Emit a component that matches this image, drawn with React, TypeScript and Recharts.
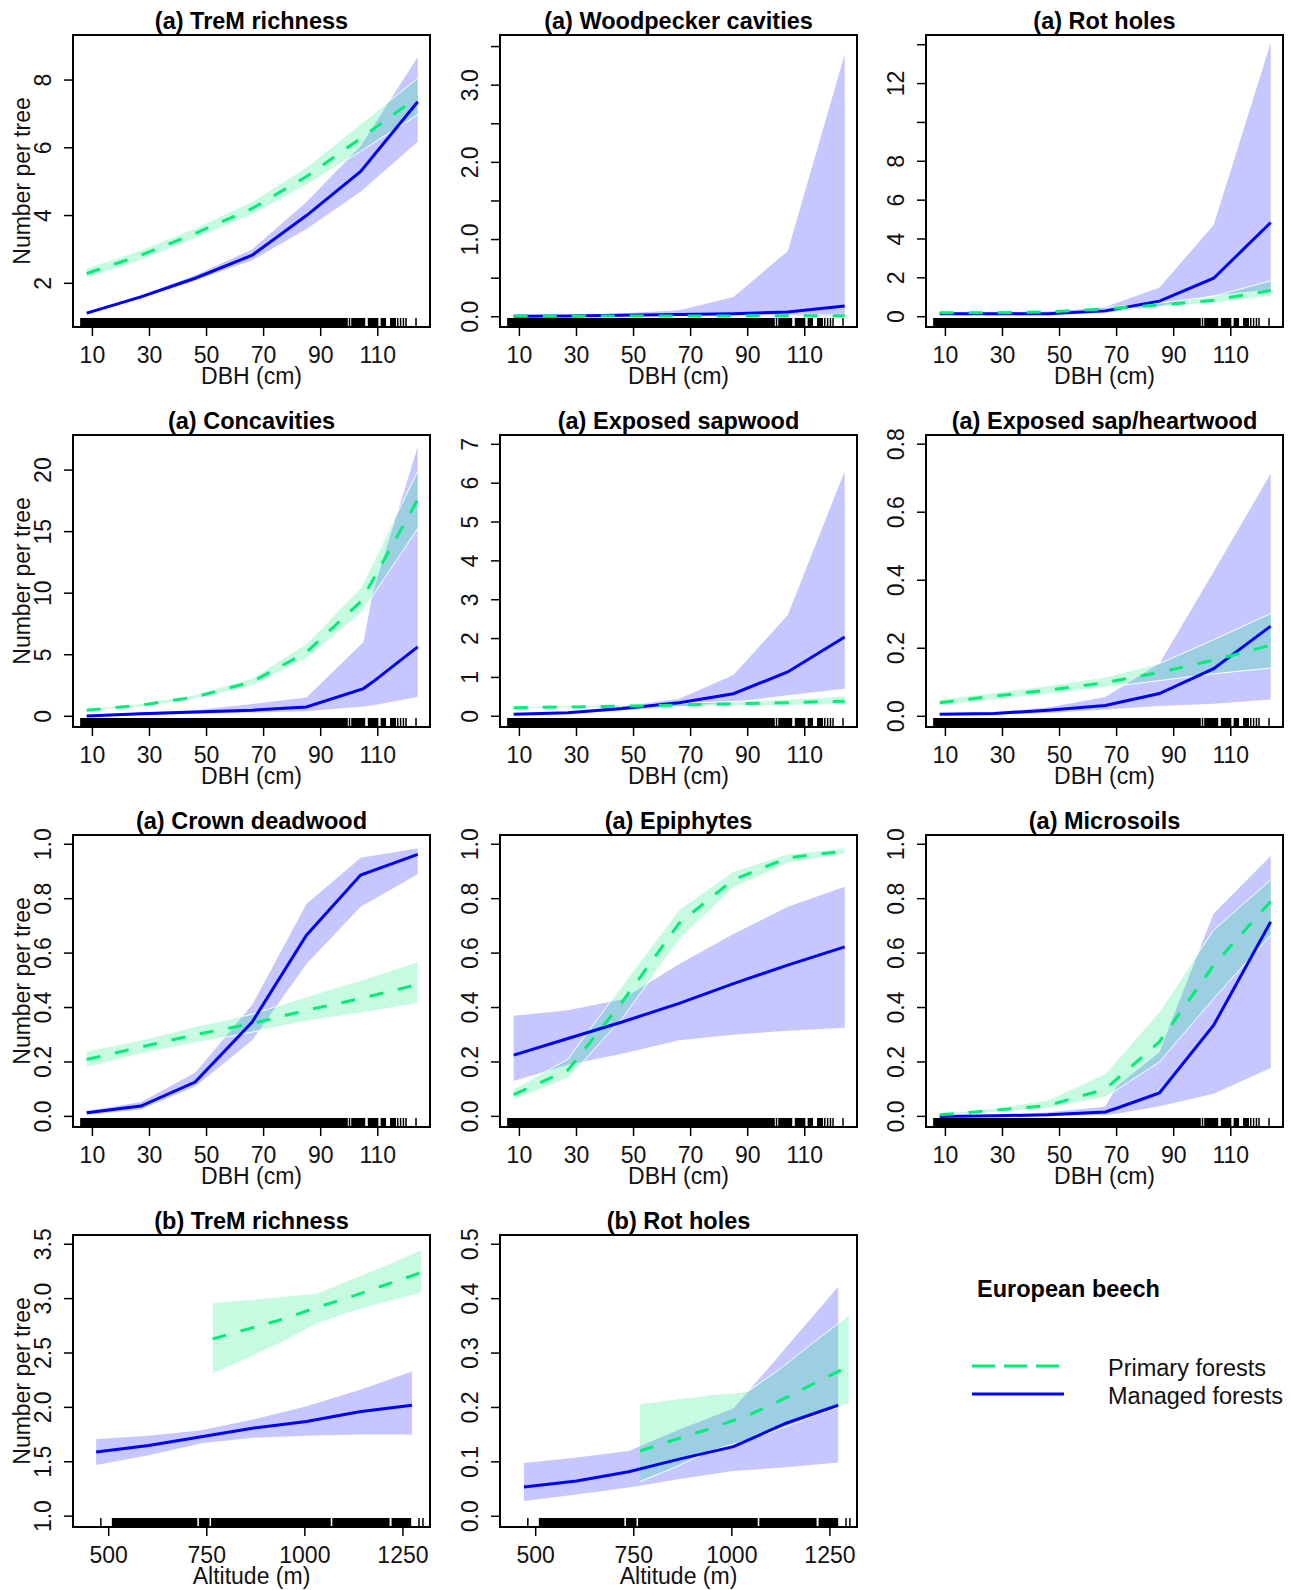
import React from "react";
import { ComposedChart, Area, Line, XAxis, YAxis, ReferenceArea, ReferenceLine } from "recharts";

const FONT = '"Liberation Sans", Arial, Helvetica, sans-serif';
const GREEN = "#00ee76";
const BLUE = "#0000ff";
const GREEN_BAND = "rgba(0,238,118,0.22)";
const BLUE_BAND = "rgba(0,0,255,0.22)";
const FS = 23;

// each row: [x, fitted, lower, upper]
type Row = [number, number, number, number];

// (a) panels, x = DBH (cm)
const tremPrimary: Row[] = [[8, 2.29, 2.15, 2.45], [27, 2.83, 2.68, 2.98], [46, 3.47, 3.32, 3.63], [66, 4.21, 4.02, 4.42], [85, 5.15, 4.9, 5.42], [104, 6.28, 5.9, 6.7], [124, 7.5, 6.98, 8.05]];
const tremManaged: Row[] = [[8, 1.12, 1.1, 1.15], [27, 1.6, 1.56, 1.65], [46, 2.15, 2.08, 2.24], [66, 2.83, 2.68, 3.0], [85, 4.0, 3.6, 4.4], [104, 5.3, 4.7, 6.05], [124, 7.36, 6.18, 8.68]];

const woodPrimary: Row[] = [[8, 0.01, 0.005, 0.015], [27, 0.01, 0.005, 0.015], [46, 0.01, 0.006, 0.016], [66, 0.01, 0.006, 0.017], [85, 0.011, 0.006, 0.018], [104, 0.012, 0.006, 0.02], [124, 0.013, 0.006, 0.025]];
const woodManaged: Row[] = [[8, 0.005, 0.0, 0.01], [27, 0.01, 0.001, 0.02], [46, 0.02, 0.004, 0.045], [66, 0.03, 0.008, 0.085], [85, 0.04, 0.01, 0.255], [104, 0.06, 0.01, 0.85], [124, 0.14, 0.01, 3.4]];

const rotPrimary: Row[] = [[8, 0.2, 0.15, 0.25], [27, 0.2, 0.15, 0.25], [46, 0.25, 0.2, 0.3], [66, 0.4, 0.33, 0.48], [85, 0.6, 0.5, 0.7], [104, 0.85, 0.7, 1.05], [124, 1.35, 1.05, 1.85]];
const rotManaged: Row[] = [[8, 0.15, 0.1, 0.2], [27, 0.15, 0.1, 0.2], [46, 0.15, 0.12, 0.25], [66, 0.3, 0.2, 0.5], [85, 0.8, 0.55, 1.5], [104, 1.98, 1.1, 4.72], [124, 4.85, 1.4, 14.1]];

const concPrimary: Row[] = [[8, 0.49, 0.4, 0.6], [27, 0.9, 0.78, 1.02], [46, 1.57, 1.4, 1.75], [66, 2.8, 2.5, 3.1], [85, 5.2, 4.7, 5.9], [104, 9.3, 8.35, 10.4], [124, 17.6, 15.25, 19.9]];
const concManaged: Row[] = [[8, 0.03, 0.0, 0.06], [27, 0.2, 0.1, 0.3], [46, 0.35, 0.2, 0.5], [66, 0.5, 0.3, 1.0], [85, 0.76, 0.4, 1.52], [105, 2.25, 0.8, 6.04], [108.3, 2.8, 0.9, 10.1], [124, 5.64, 1.57, 21.9]];

const sapPrimary: Row[] = [[8, 0.22, 0.19, 0.25], [27, 0.24, 0.21, 0.27], [46, 0.26, 0.23, 0.29], [66, 0.29, 0.25, 0.33], [85, 0.32, 0.27, 0.38], [104, 0.35, 0.28, 0.44], [124, 0.39, 0.3, 0.52]];
const sapManaged: Row[] = [[8, 0.05, 0.04, 0.07], [27, 0.09, 0.07, 0.11], [46, 0.2, 0.15, 0.25], [66, 0.35, 0.25, 0.45], [85, 0.58, 0.37, 1.06], [104, 1.14, 0.54, 2.6], [124, 2.04, 0.71, 6.31]];

const heartPrimary: Row[] = [[8, 0.04, 0.03, 0.05], [27, 0.059, 0.048, 0.07], [46, 0.077, 0.065, 0.09], [66, 0.099, 0.085, 0.115], [85, 0.129, 0.105, 0.155], [104, 0.165, 0.125, 0.225], [124, 0.209, 0.142, 0.302]];
const heartManaged: Row[] = [[8, 0.006, 0.003, 0.01], [27, 0.008, 0.005, 0.012], [46, 0.018, 0.01, 0.026], [66, 0.032, 0.02, 0.057], [85, 0.067, 0.03, 0.155], [104, 0.14, 0.037, 0.425], [124, 0.265, 0.049, 0.714]];

const crownPrimary: Row[] = [[8, 0.209, 0.18, 0.24], [27, 0.255, 0.23, 0.28], [46, 0.3, 0.27, 0.33], [66, 0.341, 0.31, 0.375], [85, 0.39, 0.35, 0.44], [104, 0.433, 0.38, 0.5], [124, 0.485, 0.415, 0.568]];
const crownManaged: Row[] = [[8, 0.013, 0.005, 0.02], [27, 0.038, 0.025, 0.053], [46, 0.126, 0.11, 0.16], [66, 0.347, 0.28, 0.41], [85, 0.666, 0.56, 0.78], [104, 0.887, 0.77, 0.95], [124, 0.963, 0.89, 0.985]];

const epiPrimary: Row[] = [[8, 0.08, 0.06, 0.1], [27, 0.17, 0.14, 0.21], [46, 0.42, 0.36, 0.48], [66, 0.71, 0.65, 0.76], [85, 0.87, 0.84, 0.9], [104, 0.95, 0.93, 0.965], [124, 0.975, 0.965, 0.985]];
const epiManaged: Row[] = [[8, 0.225, 0.13, 0.37], [27, 0.286, 0.19, 0.39], [46, 0.347, 0.23, 0.43], [66, 0.415, 0.28, 0.56], [85, 0.488, 0.3, 0.67], [104, 0.556, 0.315, 0.77], [124, 0.623, 0.326, 0.844]];

const microPrimary: Row[] = [[8, 0.006, 0.003, 0.01], [27, 0.022, 0.015, 0.03], [46, 0.04, 0.03, 0.06], [66, 0.1, 0.07, 0.157], [85, 0.274, 0.2, 0.384], [104, 0.556, 0.433, 0.685], [124, 0.79, 0.666, 0.869]];
const microManaged: Row[] = [[8, 0.0, 0.0, 0.003], [27, 0.002, 0.0, 0.005], [46, 0.006, 0.002, 0.015], [66, 0.016, 0.005, 0.035], [70, 0.03, 0.01, 0.11], [85, 0.086, 0.037, 0.237], [104, 0.335, 0.083, 0.746], [124, 0.715, 0.178, 0.957]];

// (b) panels, x = altitude (m)
const tremAltPrimary: Row[] = [[765, 2.63, 2.31, 2.96], [854, 2.72, 2.45, 2.99], [943, 2.81, 2.6, 3.02], [1031, 2.92, 2.77, 3.05], [1120, 3.02, 2.88, 3.18], [1208, 3.13, 2.97, 3.31], [1297, 3.24, 3.05, 3.45]];
const tremAltManaged: Row[] = [[468, 1.59, 1.47, 1.71], [602, 1.65, 1.56, 1.74], [736, 1.73, 1.67, 1.79], [870, 1.81, 1.72, 1.89], [1004, 1.87, 1.74, 2.01], [1139, 1.96, 1.75, 2.16], [1273, 2.02, 1.75, 2.33]];

const rotAltPrimary: Row[] = [[766, 0.12, 0.064, 0.207], [855, 0.141, 0.09, 0.215], [944, 0.161, 0.12, 0.223], [1040, 0.185, 0.14, 0.229], [1121, 0.212, 0.16, 0.27], [1209, 0.244, 0.185, 0.32], [1298, 0.276, 0.207, 0.369]];
const rotAltManaged: Row[] = [[470, 0.054, 0.028, 0.098], [604, 0.065, 0.04, 0.108], [737, 0.082, 0.053, 0.12], [871, 0.106, 0.069, 0.161], [1004, 0.128, 0.083, 0.198], [1138, 0.171, 0.09, 0.31], [1271, 0.204, 0.099, 0.422]];

// rug of observed trees: dense runs and isolated ticks
const dbhRugRuns = [[5.7, 99.5], [100.7, 105.6], [106.5, 110.2], [111, 112.9], [114.3, 116.4]];
const dbhRugTicks = [100.1, 117, 118, 119, 119.9, 123.4];
const altRugRuns = [[508, 726], [730, 757], [761, 1066], [1070, 1216], [1221, 1271]];
const altRugTicks = [480, 1291, 1301];

const dbhTicks = [10, 30, 50, 70, 90, 110];
const altTicks = [500, 750, 1000, 1250];
const dbhDomain: [number, number] = [3.2, 128.3];
const altDomain: [number, number] = [409, 1319];

const rows = (a: Row[]) => a.map(([x, y, lo, hi]) => ({ x, y, band: [lo, hi] }));

type Panel = {
  title: string;
  primary: Row[];
  managed: Row[];
  alt?: boolean;
  yDomain: [number, number];
  yTicks: number[];
  hide?: number[];
  dec: number;
};

const panels: Panel[] = [
  { title: "(a) TreM richness", primary: tremPrimary, managed: tremManaged, yDomain: [0.71, 9.33], yTicks: [2, 4, 6, 8], dec: 0 },
  { title: "(a) Woodpecker cavities", primary: woodPrimary, managed: woodManaged, yDomain: [-0.133, 3.65], yTicks: [0, 0.5, 1, 1.5, 2, 2.5, 3, 3.5], hide: [0.5, 1.5, 2.5, 3.5], dec: 1 },
  { title: "(a) Rot holes", primary: rotPrimary, managed: rotManaged, yDomain: [-0.53, 14.5], yTicks: [0, 2, 4, 6, 8, 10, 12, 14], hide: [10, 14], dec: 0 },
  { title: "(a) Concavities", primary: concPrimary, managed: concManaged, yDomain: [-0.87, 22.85], yTicks: [0, 5, 10, 15, 20], dec: 0 },
  { title: "(a) Exposed sapwood", primary: sapPrimary, managed: sapManaged, yDomain: [-0.276, 7.24], yTicks: [0, 1, 2, 3, 4, 5, 6, 7], dec: 0 },
  { title: "(a) Exposed sap/heartwood", primary: heartPrimary, managed: heartManaged, yDomain: [-0.0315, 0.827], yTicks: [0, 0.2, 0.4, 0.6, 0.8], dec: 1 },
  { title: "(a) Crown deadwood", primary: crownPrimary, managed: crownManaged, yDomain: [-0.039, 1.034], yTicks: [0, 0.2, 0.4, 0.6, 0.8, 1], dec: 1 },
  { title: "(a) Epiphytes", primary: epiPrimary, managed: epiManaged, yDomain: [-0.039, 1.034], yTicks: [0, 0.2, 0.4, 0.6, 0.8, 1], dec: 1 },
  { title: "(a) Microsoils", primary: microPrimary, managed: microManaged, yDomain: [-0.039, 1.034], yTicks: [0, 0.2, 0.4, 0.6, 0.8, 1], dec: 1 },
  { title: "(b) TreM richness", primary: tremAltPrimary, managed: tremAltManaged, alt: true, yDomain: [0.9, 3.585], yTicks: [1, 1.5, 2, 2.5, 3, 3.5], dec: 1 },
  { title: "(b) Rot holes", primary: rotAltPrimary, managed: rotAltManaged, alt: true, yDomain: [-0.0197, 0.517], yTicks: [0, 0.1, 0.2, 0.3, 0.4, 0.5], dec: 1 },
];

const W = 436;
const H = 400;
const PLOT_H = 292;
const colLeft = [0, 427, 853];

function makeYTick(hide: number[], dec: number) {
  return (props: any) => {
    const { x, y, payload } = props;
    const v = payload.value as number;
    if (hide.some((h) => Math.abs(h - v) < 1e-9)) return <g />;
    return (
      <text x={x} y={y} transform={`rotate(-90 ${x} ${y})`} textAnchor="middle" fontSize={FS} fontFamily={FONT} fill="#111">
        {v.toFixed(dec)}
      </text>
    );
  };
}

function PanelChart({ p, i }: { p: Panel; i: number }) {
  const col = i % 3;
  const row = Math.floor(i / 3);
  const xDomain = p.alt ? altDomain : dbhDomain;
  const runs = p.alt ? altRugRuns : dbhRugRuns;
  const ticks = p.alt ? altRugTicks : dbhRugTicks;
  const y0 = p.yDomain[0];
  const rugTop = y0 + ((p.yDomain[1] - p.yDomain[0]) * 9) / PLOT_H;
  return (
    <div style={{ position: "absolute", left: colLeft[col], top: row * 400 }}>
      <ComposedChart width={W} height={H} margin={{ top: 35, right: 6, bottom: 0, left: 0 }}>
        <XAxis
          type="number"
          dataKey="x"
          domain={xDomain}
          ticks={p.alt ? altTicks : dbhTicks}
          allowDataOverflow
          interval={0}
          axisLine={false}
          tickLine={{ stroke: "#000", strokeWidth: 1.5 }}
          tickSize={9}
          tickMargin={11}
          height={73}
          tick={{ fontSize: FS, fill: "#111", fontFamily: FONT }}
          label={{ value: p.alt ? "Altitude (m)" : "DBH (cm)", position: "insideBottom", offset: 16, fontSize: FS, fill: "#111", fontFamily: FONT }}
        />
        <YAxis
          type="number"
          domain={p.yDomain}
          ticks={p.yTicks}
          allowDataOverflow
          interval={0}
          axisLine={false}
          tickLine={{ stroke: "#000", strokeWidth: 1.5 }}
          tickSize={9}
          tickMargin={13}
          width={73}
          tick={makeYTick(p.hide ?? [], p.dec)}
          label={
            col === 0
              ? { value: "Number per tree", angle: -90, position: "insideLeft", offset: 22, fontSize: FS, fill: "#111", fontFamily: FONT, style: { textAnchor: "middle" } }
              : undefined
          }
        />
        <Area data={rows(p.managed)} dataKey="band" type="linear" fill={BLUE_BAND} fillOpacity={1} stroke="none" isAnimationActive={false} />
        <Area data={rows(p.primary)} dataKey="band" type="linear" fill={GREEN_BAND} fillOpacity={1} stroke="#ffffff" strokeWidth={1} isAnimationActive={false} />
        <Line data={rows(p.managed)} dataKey="y" type="linear" stroke={BLUE} strokeWidth={3} dot={false} isAnimationActive={false} />
        <Line data={rows(p.primary)} dataKey="y" type="linear" stroke={GREEN} strokeWidth={3} strokeDasharray="14 15" dot={false} isAnimationActive={false} />
        {runs.map((r, k) => (
          <ReferenceArea key={"r" + k} x1={r[0]} x2={r[1]} y1={y0} y2={rugTop} fill="#000" fillOpacity={1} stroke="none" />
        ))}
        {ticks.map((t, k) => (
          <ReferenceLine key={"t" + k} segment={[{ x: t, y: y0 }, { x: t, y: rugTop }]} stroke="#000" strokeWidth={1.5} />
        ))}
        <ReferenceArea
          x1={xDomain[0]}
          x2={xDomain[1]}
          y1={p.yDomain[0]}
          y2={p.yDomain[1]}
          fill="none"
          stroke="#000"
          strokeWidth={2}
          label={{ value: p.title, position: "top", offset: 6, fontSize: 23.5, fontWeight: "bold", fill: "#000", fontFamily: FONT }}
        />
      </ComposedChart>
    </div>
  );
}

function LegendBox() {
  return (
    <svg width={330} height={180} style={{ position: "absolute", left: 960, top: 1250 }}>
      <text x={17} y={47} fontSize={23.5} fontWeight="bold" fontFamily={FONT} fill="#000">European beech</text>
      <line x1={12} y1={116} x2={99} y2={116} stroke={GREEN} strokeWidth={3} strokeDasharray="23 9" />
      <line x1={12} y1={144} x2={104} y2={144} stroke={BLUE} strokeWidth={3} />
      <text x={148} y={126} fontSize={23.5} fontFamily={FONT} fill="#111">Primary forests</text>
      <text x={148} y={154} fontSize={23.5} fontFamily={FONT} fill="#111">Managed forests</text>
    </svg>
  );
}

export default function App() {
  return (
    <div style={{ position: "absolute", left: 0, top: 0, width: 1293, height: 1590, background: "#fff", fontFamily: FONT }}>
      {panels.map((p, i) => (
        <PanelChart key={i} p={p} i={i} />
      ))}
      <LegendBox />
    </div>
  );
}
